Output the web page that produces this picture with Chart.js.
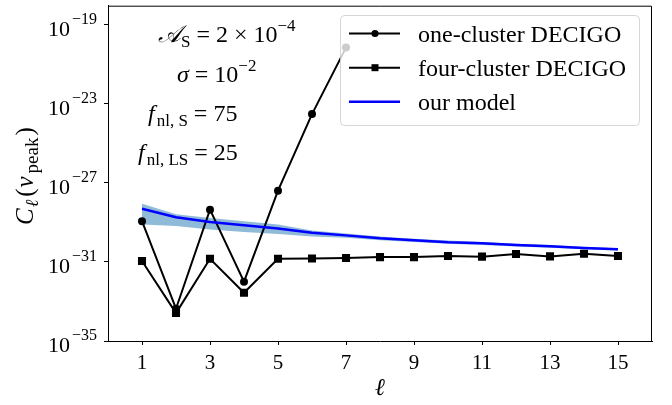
<!DOCTYPE html>
<html>
<head>
<meta charset="utf-8">
<script src="https://cdn.jsdelivr.net/npm/chart.js@4.4.1/dist/chart.umd.min.js"></script>
<style>
  html, body { margin: 0; padding: 0; background: #fff; }
  canvas { display: block; }
</style>
</head>
<body>
<canvas id="cl" width="672" height="405"></canvas>
<script>
// =================== DATA ===================
const ells = [1, 2, 3, 4, 5, 6, 7, 8, 9, 10, 11, 12, 13, 14, 15];
// one-cluster DECIGO only goes up to ell = 7
const oneCluster = [1.15e-29, 4.3e-34, 4.4e-29, 1.0e-32, 4.0e-28, 3.0e-24, 6.9e-21];
const fourCluster = [1.12e-31, 2.6e-34, 1.45e-31, 2.75e-33, 1.45e-31, 1.5e-31, 1.58e-31,
  1.75e-31, 1.75e-31, 2.0e-31, 1.85e-31, 2.5e-31, 1.9e-31, 2.6e-31, 2.0e-31];
const modelMid = [4.9e-29, 1.8e-29, 1.05e-29, 7.2e-30, 4.9e-30, 2.95e-30, 2.2e-30,
  1.58e-30, 1.26e-30, 1.0e-30, 8.7e-31, 7.1e-31, 6.2e-31, 5.0e-31, 4.4e-31];
const modelHigh = [8.7e-29, 2.6e-29, 1.66e-29, 1.15e-29, 7.8e-30, 3.9e-30, 2.75e-30,
  1.95e-30, 1.5e-30, 1.2e-30, 1.02e-30, 8.3e-31, 7.1e-31, 5.75e-31, 4.9e-31];
const modelLow = [7.8e-30, 6.5e-30, 4.4e-30, 3.3e-30, 2.6e-30, 1.95e-30, 1.66e-30,
  1.26e-30, 1.02e-30, 8.3e-31, 7.2e-31, 6.0e-31, 5.25e-31, 4.4e-31, 3.8e-31];

const xTicks = [1, 3, 5, 7, 9, 11, 13, 15];
const yTickExps = [-35, -31, -27, -23, -19];
const legendLabels = ["one-cluster DECIGO", "four-cluster DECIGO", "our model"];

// =================== HELPERS ===================
const SERIF = '"Liberation Serif", "DejaVu Serif", serif';
const font = (size, style = "") => `${style} ${size}px ${SERIF}`;
const pts = (ys) => ys.map((y, i) => ({ x: ells[i], y }));

// draw a row of text runs (for sub/superscripts), returns end x
function drawRuns(ctx, x, y, runs) {
  runs.forEach((r) => {
    ctx.font = r.f;
    ctx.fillText(r.t, x, y + (r.dy || 0));
    x += ctx.measureText(r.t).width + (r.gap || 0);
  });
  return x;
}

function drawLegend(chart) {
  const ctx = chart.ctx;
  const x0 = 340.5, y0 = 15.5, w = 299, h = 110;
  ctx.save();
  ctx.beginPath();
  ctx.roundRect(x0, y0, w, h, 4);
  ctx.fillStyle = "rgba(255,255,255,0.8)";
  ctx.fill();
  ctx.strokeStyle = "rgba(204,204,204,0.8)";
  ctx.lineWidth = 1;
  ctx.stroke();

  const rows = [33.5, 67.7, 101.7];
  const sets = chart.data.datasets.slice(2);
  sets.forEach((ds, i) => {
    const y = rows[i];
    ctx.strokeStyle = ds.borderColor;
    ctx.lineWidth = ds.borderWidth;
    ctx.beginPath();
    ctx.moveTo(349, y);
    ctx.lineTo(400, y);
    ctx.stroke();
    ctx.fillStyle = "#000";
    if (ds.pointStyle === "circle") {
      ctx.beginPath();
      ctx.arc(375, y, 3.6, 0, Math.PI * 2);
      ctx.fill();
    } else if (ds.pointStyle === "rect") {
      ctx.fillRect(371.5, y - 3.5, 7, 7);
    }
    ctx.font = font(24);
    ctx.textBaseline = "alphabetic";
    ctx.fillText(legendLabels[i], 418, y + 8);
  });
  ctx.restore();
}

const decor = {
  id: "decor",
  afterDraw(chart) {
    const ctx = chart.ctx;
    const a = chart.chartArea;
    ctx.save();
    // top + right spines
    ctx.strokeStyle = "#000";
    ctx.lineWidth = 1;
    ctx.beginPath();
    ctx.moveTo(a.left, a.top + 0.5);
    ctx.lineTo(a.right - 0.5, a.top + 0.5);
    ctx.lineTo(a.right - 0.5, a.bottom);
    ctx.stroke();

    // y tick labels 10^n
    const ys = chart.scales.y;
    ctx.fillStyle = "#000";
    ctx.textBaseline = "alphabetic";
    yTickExps.forEach((e) => {
      const py = ys.getPixelForValue(Math.pow(10, e));
      ctx.font = font(16);
      const sup = "\u2212" + Math.abs(e);
      const wSup = ctx.measureText(sup).width;
      ctx.font = font(22);
      const wTen = ctx.measureText("10").width;
      const right = 97;
      drawRuns(ctx, right - wSup - wTen - 2, py + 11, [
        { t: "10", f: font(22), gap: 2 },
        { t: sup, f: font(16), dy: -12 },
      ]);
    });

    // x label
    ctx.font = font(24, "italic");
    ctx.textAlign = "center";
    ctx.fillText("\u2113", (a.left + a.right) / 2, 395);
    ctx.textAlign = "left";

    // y label, rotated
    ctx.save();
    ctx.translate(33, 225);
    ctx.rotate(-Math.PI / 2);
    drawRuns(ctx, 0, 0, [
      { t: "C", f: font(25, "italic"), gap: 1 },
      { t: "\u2113", f: font(18, "italic"), dy: 5, gap: 3 },
      { t: "(", f: font(25), gap: 1 },
      { t: "\u03bd", f: font(25, "italic"), gap: 3 },
      { t: "peak", f: font(19), dy: 5, gap: 2 },
      { t: ")", f: font(25) },
    ]);
    ctx.restore();

    // parameter annotations
    drawRuns(ctx, 158, 41.7, [
      { t: "\ud835\udc9c", f: font(24, "italic") },
      { t: "S", f: font(17), dy: 5 },
      { t: " = 2 \u00d7 10", f: font(24) },
      { t: "\u22124", f: font(17), dy: -11 },
    ]);
    drawRuns(ctx, 177, 81.7, [
      { t: "\u03c3", f: font(24, "italic") },
      { t: " = 10", f: font(24) },
      { t: "\u22122", f: font(17), dy: -11 },
    ]);
    drawRuns(ctx, 148, 120.7, [
      { t: "f", f: font(24, "italic"), gap: 2 },
      { t: "nl, S", f: font(17), dy: 5 },
      { t: " = 75", f: font(24) },
    ]);
    drawRuns(ctx, 138, 160, [
      { t: "f", f: font(24, "italic"), gap: 2 },
      { t: "nl, LS", f: font(17), dy: 5 },
      { t: " = 25", f: font(24) },
    ]);
    ctx.restore();

    drawLegend(chart);
  },
};

// =================== CHART ===================
const axisGrid = { drawOnChartArea: false, drawTicks: true, tickLength: 4, color: "#000", lineWidth: 1 };
const axisBorder = { display: true, color: "#000", width: 1 };

const chart = new Chart(document.getElementById("cl"), {
  type: "line",
  data: {
    datasets: [
      { label: "band-high", data: pts(modelHigh), fill: "+1", backgroundColor: "rgba(31,119,180,0.5)",
        borderWidth: 0, pointRadius: 0, order: 3 },
      { label: "band-low", data: pts(modelLow), fill: false, borderWidth: 0, pointRadius: 0, order: 3 },
      { label: legendLabels[0], data: pts(oneCluster), borderColor: "#000", borderWidth: 2,
        pointStyle: "circle", pointRadius: 4, pointBackgroundColor: "#000", pointBorderWidth: 0, order: 1 },
      { label: legendLabels[1], data: pts(fourCluster), borderColor: "#000", borderWidth: 2,
        pointStyle: "rect", pointRadius: 5.7, pointBackgroundColor: "#000", pointBorderWidth: 0, order: 1 },
      { label: legendLabels[2], data: pts(modelMid), borderColor: "#0000ff", borderWidth: 2.5,
        pointRadius: 0, order: 0 },
    ],
  },
  options: {
    responsive: false,
    animation: false,
    devicePixelRatio: 1,
    layout: { padding: { top: 3, right: 20, left: 0, bottom: 0 } },
    elements: { line: { tension: 0 } },
    plugins: { legend: { display: false }, tooltip: { enabled: false } },
    scales: {
      x: {
        type: "linear", min: 0, max: 16,
        afterBuildTicks: (s) => { s.ticks = xTicks.map((v) => ({ value: v })); },
        afterFit: (s) => { s.height = 64; },
        grid: axisGrid, border: axisBorder,
        ticks: { color: "#000", font: { family: SERIF, size: 21 }, padding: 6, autoSkip: false, maxRotation: 0 },
      },
      y: {
        type: "logarithmic", min: 1e-35, max: 9.1e-19,
        afterBuildTicks: (s) => { s.ticks = yTickExps.map((e) => ({ value: Math.pow(10, e) })); },
        afterFit: (s) => { s.width = 108; },
        grid: axisGrid, border: axisBorder,
        ticks: { display: false },
      },
    },
  },
  plugins: [decor],
});
</script>
</body>
</html>
